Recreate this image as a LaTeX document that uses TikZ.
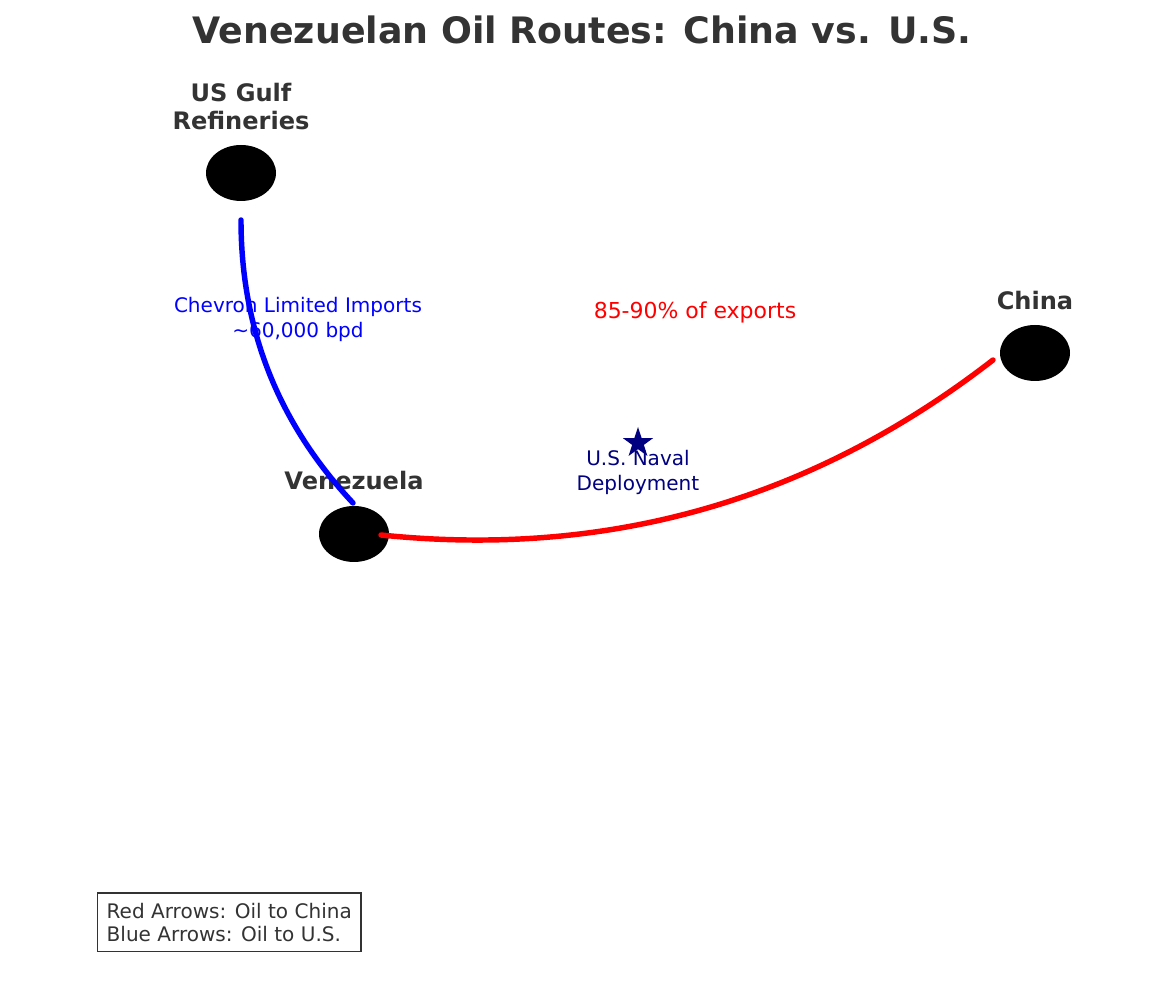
\documentclass[tikz,border=0pt]{standalone}
\usepackage{fontspec}
\setmainfont{DejaVu Sans}
\usetikzlibrary{positioning,calc,shapes.geometric}

\definecolor{labelgray}{HTML}{333333}
\definecolor{navyblue}{RGB}{0,0,128}

\begin{document}
\begin{tikzpicture}[
  place/.style={ellipse,fill=black,inner sep=0pt,minimum width=1.4cm,minimum height=1.12cm},
  placename/.style={font=\fontsize{13.7}{16}\selectfont\bfseries,text=labelgray,align=center,inner sep=0pt},
  route/.style={line width=3.1pt,line cap=round},
  note/.style={font=\fontsize{11.4}{13.7}\selectfont,align=center,inner sep=0pt}]
\useasboundingbox (0,0) rectangle (23.28,20);

\node[font=\fontsize{20.7}{24}\selectfont\bfseries,text=labelgray] (title) at (11.64,19.4) {Venezuelan Oil Routes: China vs. U.S.};

\node[place] at (4.82,16.54)	(gulf) {};
\node[place] at (7.08,9.32)	(venezuela) {};
\node[place] at (20.70,12.94)	(china) {};

\node[placename,above=0.28cm of gulf] (gulf label) {US Gulf\\Refineries};
\node[placename,above=0.3cm of venezuela] (venezuela label) {Venezuela};
\node[placename,above=0.28cm of china] (china label) {China};

\node[note,text=blue] at (5.96,13.61) (chevron) {Chevron Limited Imports\\\textasciitilde60,000 bpd};
\node[note,text=red,font=\fontsize{12.5}{15}\selectfont] at (13.90,13.76) (share) {85-90\% of exports};
\node[star,star points=5,star point ratio=2.6,fill=navyblue,inner sep=0pt,minimum size=0.64cm] at (12.76,11.14) (navy) {};
\node[note,text=navyblue] at (12.76,10.55) (naval) {U.S. Naval\\Deployment};

\node[draw=labelgray,line width=0.8pt,text=labelgray,align=left,inner xsep=0.18cm,inner ysep=0.2cm,anchor=south west,
  font=\fontsize{11.4}{13}\selectfont] at (1.94,0.96) (legend) {Red Arrows: Oil to China\\Blue Arrows: Oil to U.S.};

\coordinate (gulf out) at ($(gulf)+(0,-0.94)$);
\coordinate (venezuela in) at ($(venezuela)+(-0.02,0.62)$);
\coordinate (venezuela out) at ($(venezuela)+(0.54,-0.02)$);
\coordinate (china in) at ($(china)+(-0.84,-0.14)$);

\draw[route,blue] (gulf out) .. controls (4.82,13.41) and (5.57,11.53) .. (venezuela in);
\draw[route,red] (venezuela out) .. controls (12.17,8.83) and (16.25,10.00) .. (china in);
\end{tikzpicture}
\end{document}
